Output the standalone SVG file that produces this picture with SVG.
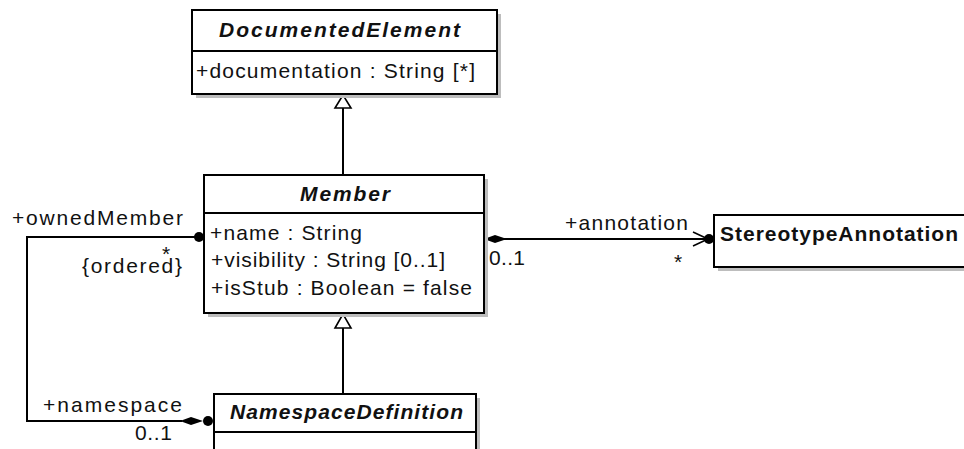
<svg xmlns="http://www.w3.org/2000/svg" width="964" height="449" viewBox="0 0 964 449">
<style>
text{font-family:"Liberation Sans",Arial,sans-serif;font-size:21px;fill:#111}
.t{font-weight:bold;font-style:italic}
.b{font-weight:bold}
.box{fill:#fff;stroke:#000;stroke-width:2}
.sh{fill:#bdbdbd}
.ln{fill:none;stroke:#000;stroke-width:2}
.gen{fill:#fff;stroke:#000;stroke-width:1.6}
</style>
<rect width="964" height="449" fill="#fff"/>
<g id="connectors">
<line class="ln" x1="343" y1="108" x2="343" y2="175"/>
<polygon class="gen" points="343,95 335,108 351,108"/>
<line class="ln" x1="343" y1="394" x2="343" y2="328"/>
<polygon class="gen" points="343,314 335,328 351,328"/>
<polyline class="ln" points="198,237 27,237 27,421 182,421"/>
<circle cx="199" cy="237" r="5" fill="#000"/>
<polygon points="180,421 191,417 203,421 191,425" fill="#000"/>
<circle cx="208" cy="421" r="5" fill="#000"/>
<line class="ln" x1="484" y1="239" x2="708" y2="239"/>
<polygon points="484,239 495,235 507,239 495,243" fill="#000"/>
<polyline fill="none" stroke="#000" stroke-width="1.6" points="693,232 708,239 693,246"/>
<circle cx="709" cy="239" r="5" fill="#000"/>
<text x="12" y="225" textLength="171" lengthAdjust="spacing">+ownedMember</text>
<text x="162" y="261">*</text>
<text x="82" y="273" textLength="100" lengthAdjust="spacing">{ordered}</text>
<text x="43" y="412" textLength="139" lengthAdjust="spacing">+namespace</text>
<text x="135" y="440" textLength="37" lengthAdjust="spacing">0..1</text>
<text x="565" y="230" textLength="123" lengthAdjust="spacing">+annotation</text>
<text x="489" y="265" textLength="36" lengthAdjust="spacing">0..1</text>
<text x="674" y="269">*</text>
</g>
<g id="DocumentedElement">
<rect class="sh" x="196" y="14" width="305" height="84"/>
<rect class="box" x="192" y="10" width="305" height="84"/>
<line class="ln" x1="192" y1="51" x2="497" y2="51"/>
<text class="t" x="219" y="37" textLength="241" lengthAdjust="spacing">DocumentedElement</text>
<text x="196" y="78" textLength="279" lengthAdjust="spacing">+documentation : String [*]</text>
</g>
<g id="Member">
<rect class="sh" x="208" y="179" width="280" height="138"/>
<rect class="box" x="204" y="175" width="280" height="138"/>
<line class="ln" x1="204" y1="213" x2="484" y2="213"/>
<text class="t" x="300" y="201" textLength="90" lengthAdjust="spacing">Member</text>
<text x="210" y="240" textLength="152" lengthAdjust="spacing">+name : String</text>
<text x="211" y="267" textLength="234" lengthAdjust="spacing">+visibility : String [0..1]</text>
<text x="211" y="295" textLength="261" lengthAdjust="spacing">+isStub : Boolean = false</text>
</g>
<g id="StereotypeAnnotation">
<rect class="sh" x="718" y="219" width="260" height="52"/>
<rect class="box" x="714" y="215" width="260" height="52"/>
<text class="b" x="720" y="241" textLength="238" lengthAdjust="spacing">StereotypeAnnotation</text>
</g>
<g id="NamespaceDefinition">
<rect class="sh" x="218" y="398" width="262" height="70"/>
<rect class="box" x="214" y="394" width="262" height="70"/>
<line class="ln" x1="214" y1="432" x2="476" y2="432"/>
<text class="t" x="230" y="419" textLength="233" lengthAdjust="spacing">NamespaceDefinition</text>
</g>
</svg>
